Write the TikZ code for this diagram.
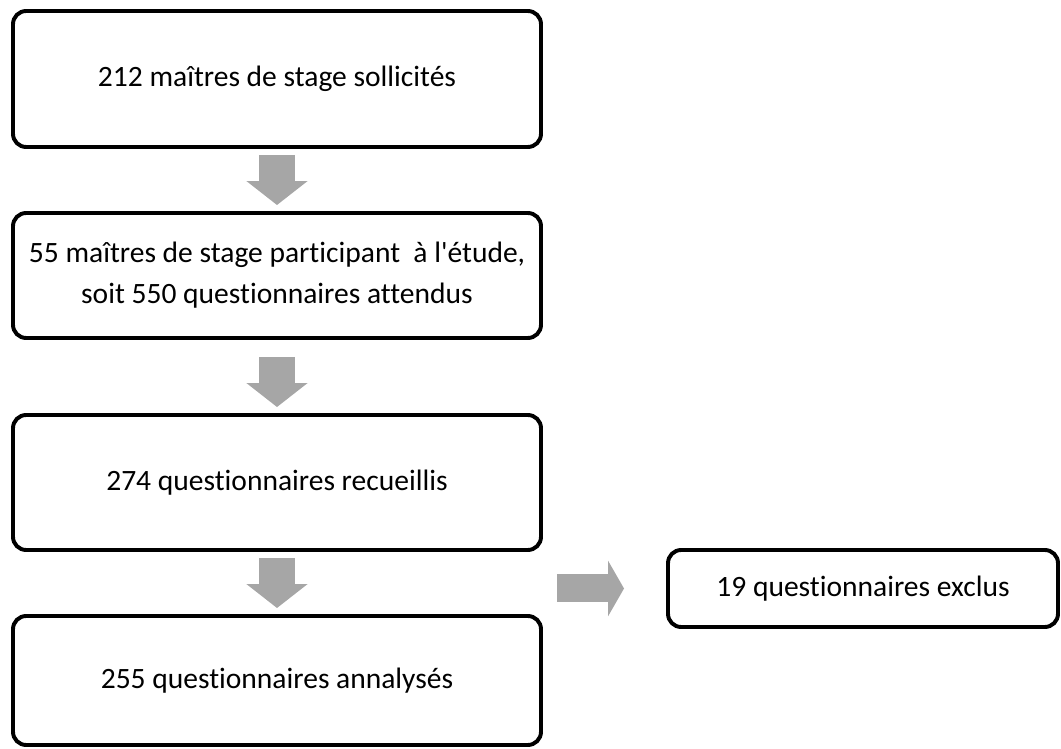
\documentclass[tikz,border=0pt]{standalone}
\usepackage{fontspec}
\setmainfont{Carlito}[Ligatures={NoCommon}]
\usetikzlibrary{arrows.meta}
\definecolor{arrowgray}{RGB}{166,166,166}

\begin{document}
\begin{tikzpicture}[scale=1,
    flowbox/.style={draw, line width=2.8pt, rounded corners=0.33cm, align=center,
      font=\fontsize{21}{29}\selectfont},
    downarrow/.style={draw=arrowgray, line width=0.9cm,
      -{Triangle[length=0.6cm, width=1.5cm]}},
    sidearrow/.style={draw=arrowgray, line width=0.7cm,
      -{Triangle[length=0.4cm, width=1.375cm]}}]
  \useasboundingbox (0,0) rectangle (26.525,18.7);
  % main column
  \node[flowbox, minimum width=13.2cm, minimum height=3.4cm] (solicit) at (6.925,16.725)
    {212 maîtres de stage sollicités};
  \node[flowbox, minimum width=13.2cm, minimum height=3.125cm] (particip) at (6.925,11.8125)
    {55 maîtres de stage participant~ à l\textquotesingle étude,\\ soit 550 questionnaires attendus};
  \node[flowbox, minimum width=13.2cm, minimum height=3.375cm] (recueil) at (6.925,6.6375)
    {274 questionnaires recueillis};
  \node[flowbox, minimum width=13.2cm, minimum height=3.225cm] (analyse) at (6.925,1.6875)
    {255 questionnaires annalysés};
  % side box
  \node[flowbox, minimum width=9.75cm, minimum height=1.925cm] (exclus) at (21.575,3.9875)
    {19 questionnaires exclus};
  % block arrows
  \draw[downarrow, shorten <=0.15cm, shorten >=0.15cm] (solicit.south) -- (particip.north);
  \draw[downarrow, shorten <=0.42cm, shorten >=0.15cm] (particip.south) -- (recueil.north);
  \draw[downarrow, shorten <=0.15cm, shorten >=0.15cm] (recueil.south) -- (analyse.north);
  \coordinate (split) at ([xshift=0.35cm]recueil.east |- exclus.west);
  \draw[sidearrow, shorten >=1.05cm] (split) -- (exclus.west);
\end{tikzpicture}
\end{document}
